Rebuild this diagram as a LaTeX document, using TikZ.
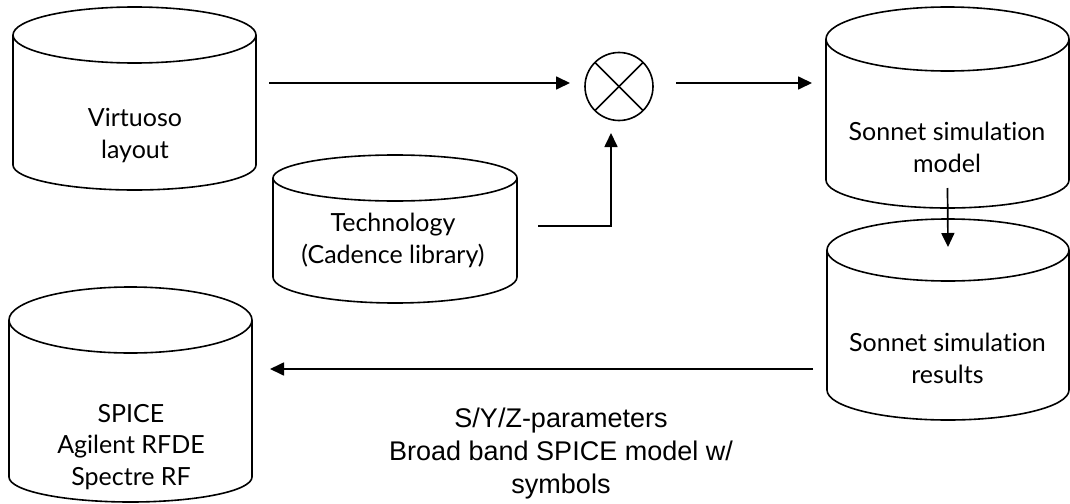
\documentclass[tikz,border=0pt]{standalone}
\usepackage{fontspec}
\setmainfont{Lato}[Ligatures=NoCommon]
\newfontfamily\arialfont{Liberation Sans}
\usetikzlibrary{arrows.meta,calc}
\tikzset{
  cylbox/.style={inner sep=0pt, outer sep=0pt, draw=none},
  cyltext/.style={align=center, anchor=base, font=\fontsize{25}{31.5}\selectfont, inner sep=0pt},
  note/.style={align=center, anchor=base, font=\arialfont\fontsize{27}{33}\selectfont, inner sep=0pt},
  arr/.style={line width=1.7pt, -{Triangle[length=14pt,width=13pt]}},
  outline/.style={line width=1.6pt},
  mixer/.style={circle, draw, line width=1.6pt, minimum size=68pt, inner sep=0pt, outer sep=0pt},
}
\newcommand\drawcyl[3]{%
  \draw[outline] let \p1=(#1.north west), \p2=(#1.south east), \n1={(\x2-\x1)/2} in
    ({(\x1+\x2)/2},{\y1-#2pt}) ellipse [x radius={\n1*1pt}, y radius=#2pt]
    (\x1,{\y1-#2pt}) -- (\x1,{\y2+#3pt})
    arc[start angle=180, end angle=360, x radius={\n1*1pt}, y radius=#3pt]
    -- (\x2,{\y1-#2pt});
}
\begin{document}
\begin{tikzpicture}[x=1pt,y=-1pt]
\useasboundingbox (0,0) rectangle (1070,503);

% cylinder boxes
\node[cylbox, minimum width=243pt, minimum height=183pt] (virt) at (134.5,98.5) {};
\node[cylbox, minimum width=244pt, minimum height=148pt] (tech) at (395,229) {};
\node[cylbox, minimum width=243pt, minimum height=201pt] (smodel) at (947.5,107.5) {};
\node[cylbox, minimum width=242pt, minimum height=201pt] (sres) at (948,319.5) {};
\node[cylbox, minimum width=243pt, minimum height=215pt] (spice) at (130.5,394.5) {};

\drawcyl{virt}{28}{25}
\drawcyl{tech}{23}{26}
\drawcyl{smodel}{32}{28}
\drawcyl{sres}{31}{30}
\drawcyl{spice}{33}{25}

% texts (anchor base = baseline of last line)
\node[cyltext] (virtT) at (135,158) {Virtuoso\\layout};
\node[cyltext] (techT) at (393,263) {Technology\\(Cadence library)};
\node[cyltext] (smodelT) at (947,172) {Sonnet simulation\\model};
\node[cyltext] (sresT) at (947.5,383) {Sonnet simulation\\results};
\node[cyltext] (spiceT) at (131,485) {SPICE\\Agilent RFDE\\Spectre RF};
\node[note] (params) at (561,493) {S/Y/Z-parameters\\Broad band SPICE model w/\\symbols};

% mixer
\node[mixer] (mix) at (619,86.5) {};
\draw[line width=1.6pt] (mix.north east) -- (mix.south west);
\draw[line width=1.6pt] (mix.north west) -- (mix.south east);

% connectors
\draw[arr] ([xshift=13pt]virt.east |- 0,83) -- ([xshift=-15pt]mix.west |- 0,83);
\draw[arr] ([xshift=23pt]mix.east |- 0,83) -- ([xshift=-14pt]smodel.west |- 0,83);
\draw[arr] ([xshift=21pt]tech.east |- 0,226) -| ([xshift=-8pt,yshift=-12.5pt]mix.south);
\draw[arr] ([yshift=20pt]smodel.south) -- ([yshift=-28pt]sres.north);
\draw[arr] ([xshift=-14pt]sres.west |- 0,369) -- ([xshift=18pt]spice.east |- 0,369);
\end{tikzpicture}
\end{document}
